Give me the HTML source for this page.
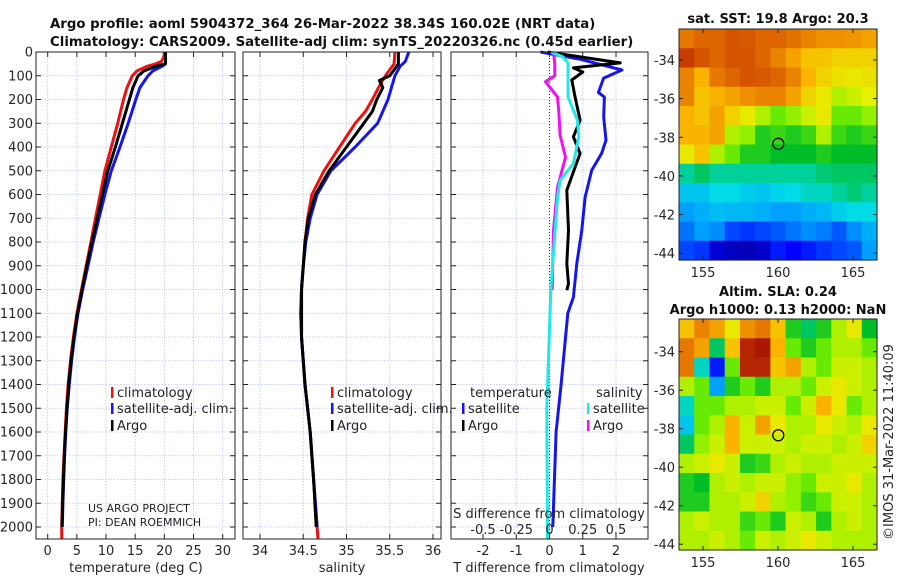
<!DOCTYPE html>
<html><head><meta charset="utf-8"><style>
html,body{margin:0;padding:0;background:#fff;width:900px;height:580px;overflow:hidden}
svg{display:block;font-family:"DejaVu Sans","Liberation Sans",sans-serif}
</style></head><body>
<svg id="fig" width="900" height="580" viewBox="0 0 900 580"></svg>
<script>
// ---------- data ----------
const tempClimDepth=[0,20,40,50,60,80,100,150,200,300,400,500,600,700,800,900,1000,1100,1200,1300,1400,1500,1600,1700,1800,1900,2000,2050];
const tempClim=[20,19.9,19.5,18.5,17,15.3,14.5,13.6,13.0,12.0,10.9,9.8,9.0,8.2,7.4,6.6,5.8,5.0,4.4,3.9,3.5,3.2,3.0,2.8,2.6,2.5,2.4,2.4];
const tempSatDepth=[0,50,60,80,100,150,200,300,400,500,600,700,800,900,1000,1100,1200,1300,1400,1500,1600,1700,1800,1900,2000];
const tempSat=[20.2,20.2,19.6,18,17.2,15.8,15.1,13.8,12.4,10.9,9.8,8.8,7.8,6.9,6.0,5.2,4.6,4.1,3.7,3.35,3.1,2.9,2.75,2.6,2.5];
const tempArgoDepth=[0,50,60,80,100,150,200,300,400,500,600,700,800,900,1000,1100,1200,1300,1400,1500,1600,1700,1800,1900,2000];
const tempArgo=[20.2,20.2,18.5,16.5,15.5,14.6,14.0,12.8,11.6,10.3,9.4,8.5,7.6,6.7,5.9,5.1,4.5,4.0,3.6,3.3,3.05,2.85,2.7,2.55,2.45];

const salClimDepth=[0,50,100,150,200,250,300,400,500,600,700,800,900,1000,1100,1200,1300,1400,1500,1600,1700,1800,1900,2000,2050];
const salClim=[35.56,35.55,35.45,35.37,35.3,35.22,35.1,34.92,34.74,34.6,34.55,34.52,34.5,34.48,34.47,34.48,34.5,34.52,34.55,34.58,34.6,34.62,34.64,34.66,34.67];
const salSatDepth=[0,40,60,100,200,300,400,500,600,700,800,900,1000,1100,1200,1300,1400,1500,1600,1700,1800,1900,2000];
const salSat=[35.72,35.68,35.62,35.56,35.48,35.36,35.1,34.82,34.66,34.58,34.53,34.5,34.48,34.47,34.48,34.5,34.52,34.55,34.58,34.6,34.62,34.64,34.66];
const salArgoDepth=[0,50,100,120,150,200,250,300,400,500,600,700,800,900,1000,1200,1400,1600,1800,2000];
const salArgo=[35.6,35.6,35.5,35.38,35.42,35.35,35.3,35.2,35.0,34.8,34.64,34.56,34.52,34.5,34.48,34.48,34.52,34.58,34.62,34.65];

const dTsatDepth=[0,30,76,110,170,190,274,371,426,498,612,751,891,1033,1100,1400,1600,2000];
const dTsat=[-0.27,0.9,2.18,1.63,1.47,1.65,1.63,1.7,1.57,1.27,1.07,0.97,0.82,0.72,0.55,0.35,0.2,0.1];
const dTargoDepth=[0,46,67,84,118,190,287,357,427,582,751,891,975,1003];
const dTargo=[-0.06,2.13,0.72,1.0,0.67,0.77,0.92,0.72,0.92,0.52,0.57,0.52,0.57,0.52];
const dSargoDepth=[0,50,100,125,190,250,350,443,570,751,1003];
const dSargo=[0.03,0.04,0.04,-0.03,0.06,0.07,0.08,0.12,0.06,0.03,0.02];
const dSsatDepth=[0,20,46,190,287,357,470,540,612,1003,1500,2000,2050];
const dSsat=[0.01,0.1,0.14,0.14,0.21,0.22,0.18,0.08,0.06,0.01,-0.02,-0.015,-0.015];

const tempTicks=[0,5,10,15,20,25,30];
const salTicks=[34,34.5,35,35.5,36];
const dTTicks=[-2,-1,0,1,2];
const dSTicks=[-0.5,-0.25,0,0.25,0.5];
const depthTicks=[0,100,200,300,400,500,600,700,800,900,1000,1100,1200,1300,1400,1500,1600,1700,1800,1900,2000];

// SST map (normalised 0..1), rows north->south, cols west->east
const sstGrid=[
[0.82,0.85,0.85,0.88,0.87,0.85,0.85,0.83,0.8,0.78,0.78,0.77,0.75],
[0.92,0.88,0.85,0.88,0.88,0.85,0.8,0.75,0.7,0.7,0.68,0.68,0.68],
[0.8,0.72,0.82,0.85,0.88,0.87,0.85,0.8,0.72,0.68,0.66,0.65,0.66],
[0.8,0.7,0.72,0.75,0.78,0.8,0.8,0.75,0.68,0.65,0.6,0.62,0.64],
[0.72,0.7,0.75,0.68,0.65,0.6,0.55,0.58,0.62,0.65,0.55,0.55,0.58],
[0.72,0.72,0.75,0.6,0.58,0.5,0.52,0.5,0.52,0.6,0.52,0.5,0.52],
[0.65,0.7,0.6,0.55,0.5,0.5,0.48,0.48,0.48,0.5,0.48,0.48,0.48],
[0.42,0.45,0.42,0.42,0.42,0.42,0.42,0.42,0.42,0.44,0.45,0.45,0.45],
[0.35,0.35,0.38,0.38,0.36,0.35,0.37,0.38,0.4,0.4,0.42,0.44,0.42],
[0.3,0.32,0.34,0.33,0.33,0.32,0.3,0.3,0.32,0.33,0.36,0.38,0.38],
[0.25,0.3,0.28,0.2,0.18,0.2,0.22,0.25,0.28,0.26,0.22,0.28,0.32],
[0.2,0.18,0.08,0.06,0.05,0.07,0.15,0.12,0.15,0.18,0.2,0.22,0.3]];
const slaGrid=[
[0.7,0.8,0.75,0.65,0.78,0.82,0.7,0.5,0.45,0.5,0.6,0.65,0.48],
[0.82,0.75,0.45,0.7,0.95,0.97,0.72,0.55,0.5,0.55,0.6,0.6,0.55],
[0.82,0.4,0.15,0.55,0.95,0.95,0.7,0.75,0.6,0.55,0.62,0.62,0.6],
[0.6,0.55,0.3,0.5,0.55,0.5,0.6,0.6,0.55,0.62,0.65,0.62,0.6],
[0.4,0.55,0.55,0.6,0.6,0.62,0.62,0.55,0.62,0.72,0.65,0.55,0.6],
[0.35,0.55,0.6,0.72,0.62,0.75,0.65,0.6,0.6,0.65,0.62,0.6,0.65],
[0.45,0.58,0.62,0.72,0.62,0.62,0.62,0.6,0.62,0.62,0.6,0.62,0.68],
[0.6,0.62,0.65,0.62,0.5,0.52,0.6,0.62,0.6,0.6,0.62,0.62,0.62],
[0.5,0.48,0.6,0.62,0.6,0.62,0.62,0.58,0.55,0.62,0.62,0.65,0.6],
[0.5,0.5,0.6,0.6,0.62,0.68,0.6,0.58,0.52,0.55,0.62,0.62,0.6],
[0.6,0.62,0.6,0.6,0.52,0.55,0.5,0.62,0.6,0.5,0.6,0.62,0.6],
[0.6,0.6,0.62,0.6,0.55,0.62,0.6,0.62,0.65,0.62,0.6,0.6,0.6]];
const mapLonTicks=[155,160,165];
const mapLatTicks=[-34,-36,-38,-40,-42,-44];
const floatLon=[160.02], floatLat=[-38.34];

// ---------- helpers ----------
const NS='http://www.w3.org/2000/svg';
const svg=document.getElementById('fig');
function mk(tag,attrs,parent){const e=document.createElementNS(NS,tag);for(const k in attrs)e.setAttribute(k,attrs[k]);(parent||svg).appendChild(e);return e;}
function txt(s,x,y,attrs,parent){const e=mk('text',Object.assign({x:x,y:y,'font-size':13,fill:'#262626'},attrs||{}),parent);e.textContent=s;return e;}
function lin(d0,d1,r0,r1){return v=>r0+(v-d0)*(r1-r0)/(d1-d0);}
const yD=lin(0,2000,52,527);
const TOP=52,BOT=539;

function panel(name,x0,x1,xs,ticks,tickFmt,showY){
  const g=mk('g',{});
  
  
  ticks.forEach(t=>mk('line',{x1:xs(t),x2:xs(t),y1:TOP,y2:BOT,stroke:'#b8c4e8','stroke-width':0.8,'stroke-dasharray':'1.5,1.5'},g));
  depthTicks.forEach(d=>{const y=yD(d);
    mk('line',{x1:x0,x2:x1,y1:y,y2:y,stroke:'#b8c4e8','stroke-width':0.8,'stroke-dasharray':'1.5,1.5'},g);
    mk('line',{x1:x0,x2:x0+5,y1:y,y2:y,stroke:'#222'},g);
    mk('line',{x1:x1-5,x2:x1,y1:y,y2:y,stroke:'#222'},g);
    if(showY)txt(String(d),x0-3,y+4.5,{'text-anchor':'end'},g);
  });
  ticks.forEach(t=>{mk('line',{x1:xs(t),x2:xs(t),y1:BOT-5,y2:BOT,stroke:'#222'},g);
    mk('line',{x1:xs(t),x2:xs(t),y1:TOP,y2:TOP+5,stroke:'#222'},g);
    if(tickFmt)txt(tickFmt(t),xs(t),555,{'text-anchor':'middle'},g);});
  return g;
}
function frame(x0,x1){return mk('rect',{x:x0,y:TOP,width:x1-x0,height:BOT-TOP,fill:'none',stroke:'#222','stroke-width':1});}
function series(name,xs,depths,vals,color,w){
  const p=mk('polyline',{points:vals.map((v,i)=>xs(v).toFixed(1)+','+yD(depths[i]).toFixed(1)).join(' '),fill:'none',stroke:color,'stroke-width':w||3,'stroke-linejoin':'round'});
  
  
  return p;
}
function legendItem(name,x,y,color,label){
  const g=mk('g',{});
  
  
  mk('rect',{x:x,y:y-10,width:2.5,height:11,fill:color},g);
  txt(label,x+6,y,{fill:'#222'},g);
}

// titles
const t1=txt('Argo profile: aoml 5904372_364 26-Mar-2022 38.34S 160.02E (NRT data)',50,28,{'font-weight':'bold','font-size':13.3,fill:'#111'});

const t2=txt('Climatology: CARS2009. Satellite-adj clim: synTS_20220326.nc (0.45d earlier)',50,46,{'font-weight':'bold','font-size':13.3,fill:'#111'});


// panel 1: temperature
const xT=lin(0,30,47.7,222.7);
panel('temperature-panel',36,235,xT,tempTicks,t=>String(t),true);
series('temp-climatology',xT,tempClimDepth,tempClim,'#f01010');
series('temp-satellite-adj',xT,tempSatDepth,tempSat,'#1515f0');
series('temp-argo',xT,tempArgoDepth,tempArgo,'#000');
frame(36,235);
legendItem('legend-climatology',111,397,'#f01010','climatology');
legendItem('legend-satellite-adj',111,413,'#1515f0','satellite-adj. clim.');
legendItem('legend-argo',111,430,'#000','Argo');
txt('US ARGO PROJECT',88,512,{'font-size':11,fill:'#222'});
txt('PI: DEAN ROEMMICH',88,526,{'font-size':11,fill:'#222'});
txt('temperature (deg C)',136,572,{'text-anchor':'middle'});

// panel 2: salinity
const xS=lin(34,36,260,433);
panel('salinity-panel',243,441,xS,salTicks,t=>String(t),false);
series('sal-climatology',xS,salClimDepth,salClim,'#f01010');
series('sal-satellite-adj',xS,salSatDepth,salSat,'#1515f0');
series('sal-argo',xS,salArgoDepth,salArgo,'#000');
frame(243,441);
legendItem('legend-climatology-2',331,397,'#f01010','climatology');
legendItem('legend-satellite-adj-2',331,413,'#1515f0','satellite-adj. clim.');
legendItem('legend-argo-2',331,430,'#000','Argo');
txt('salinity',342,572,{'text-anchor':'middle'});

// panel 3: differences
const xDT=lin(-2,2,483,616);
const xDS=lin(-0.5,0.5,483,616);
panel('difference-panel',451,648,xDT,dTTicks,t=>String(t),false);
mk('line',{x1:xDT(0),x2:xDT(0),y1:TOP,y2:BOT,stroke:'#333','stroke-width':1,'stroke-dasharray':'1,2'});
series('dT-satellite',xDT,dTsatDepth,dTsat,'#1515f0');
series('dT-argo',xDT,dTargoDepth,dTargo,'#000');
series('dS-argo',xDS,dSargoDepth,dSargo,'#f010f0');
series('dS-satellite',xDS,dSsatDepth,dSsat,'#20e8e8');
frame(451,648);
txt('temperature',470,397,{fill:'#222'});
txt('salinity',596,397,{fill:'#222'});
legendItem('legend-dT-satellite',462,413,'#1515f0','satellite');
legendItem('legend-dT-argo',462,430,'#000','Argo');
legendItem('legend-dS-satellite',587,413,'#20e8e8','satellite');
legendItem('legend-dS-argo',587,430,'#f010f0','Argo');
txt('S difference from climatology',549,518,{'text-anchor':'middle'});
dSTicks.forEach(t=>{const e=txt(String(t),xDS(t),534,{'text-anchor':'middle'});});
txt('T difference from climatology',549,572,{'text-anchor':'middle'});

// ---------- maps ----------
function jet(v){v=Math.max(0,Math.min(1,v));
  const stops=[[0,[0,0,130]],[0.12,[0,0,255]],[0.3,[0,160,255]],[0.38,[0,220,230]],[0.48,[0,190,40]],[0.56,[120,240,0]],[0.64,[230,240,0]],[0.72,[250,180,0]],[0.82,[230,120,0]],[0.92,[200,60,0]],[1,[150,0,0]]];
  for(let i=1;i<stops.length;i++){if(v<=stops[i][0]){const a=stops[i-1],b=stops[i],f=(v-a[0])/(b[0]-a[0]);
    return 'rgb('+a[1].map((c,k)=>Math.round(c+(b[1][k]-c)*f)).join(',')+')';}}
  return 'rgb(150,0,0)';}
function drawMap(name,grid,x0,x1,y0,y1,lonL,lonR,latT,latB){
  const g=mk('g',{});
  
  
  const xl=lin(lonL,lonR,x0,x1), yl=lin(latT,latB,y0,y1);
  const rows=grid.length, cols=grid[0].length;
  const cw=(x1-x0)/cols, ch=(y1-y0)/rows;
  grid.forEach((row,r)=>row.forEach((v,c)=>{
    const cell=mk('rect',{x:(x0+c*cw).toFixed(2),y:(y0+r*ch).toFixed(2),width:(cw+0.6).toFixed(2),height:(ch+0.6).toFixed(2),fill:jet(v)},g);
    
    
  }));
  mk('rect',{x:x0,y:y0,width:x1-x0,height:y1-y0,fill:'none',stroke:'#222'},g);
  mapLonTicks.forEach(t=>{mk('line',{x1:xl(t),x2:xl(t),y1:y1,y2:y1-4,stroke:'#222'},g);mk('line',{x1:xl(t),x2:xl(t),y1:y0,y2:y0+4,stroke:'#222'},g);
    txt(String(t),xl(t),y1+17,{'text-anchor':'middle'},g);});
  mapLatTicks.forEach(t=>{mk('line',{x1:x1-4,x2:x1,y1:yl(t),y2:yl(t),stroke:'#222'},g);mk('line',{x1:x0,x2:x0+4,y1:yl(t),y2:yl(t),stroke:'#222'},g);
    txt(String(t),x0-4,yl(t)+5,{'text-anchor':'end'},g);});
  const c=mk('circle',{cx:xl(floatLon[0]),cy:yl(floatLat[0]),r:5.5,fill:'none',stroke:'#000','stroke-width':1.3},g);
  
  
}
drawMap('sst-map',sstGrid,679,877,29,260,153.4,166.6,-32.4,-44.35);
drawMap('sla-map',slaGrid,679,877,319,550,153.4,166.6,-32.3,-44.3);
const m1=txt('sat. SST: 19.8 Argo: 20.3',778,23,{'text-anchor':'middle','font-weight':'bold',fill:'#111'});

const m2=txt('Altim. SLA: 0.24',778,296,{'text-anchor':'middle','font-weight':'bold',fill:'#111'});

const m3=txt('Argo h1000: 0.13 h2000: NaN',778,314,{'text-anchor':'middle','font-weight':'bold',fill:'#111'});

const cp=txt('©IMOS 31-Mar-2022 11:40:09',0,0,{'text-anchor':'middle',transform:'translate(893,442) rotate(-90)'});

</script>
</body></html>
